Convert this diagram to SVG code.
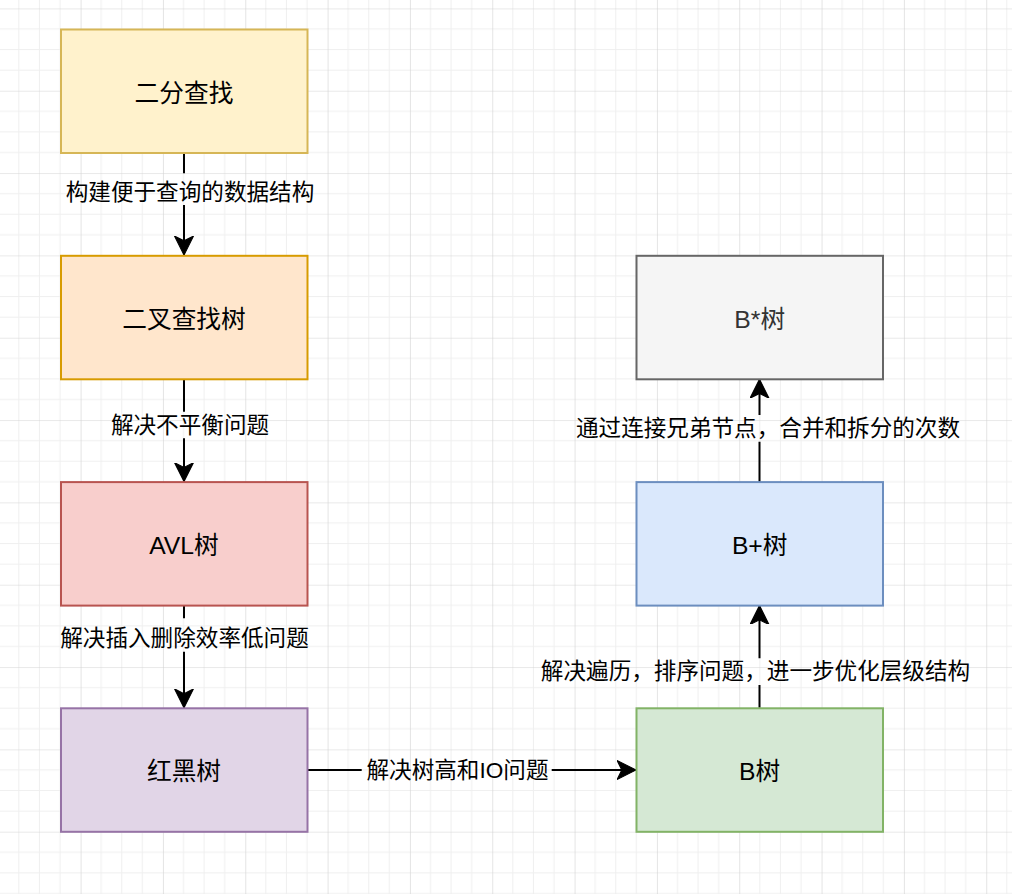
<svg xmlns="http://www.w3.org/2000/svg" width="1012" height="894" viewBox="0 0 1012 894">
  <style>
    .node rect { stroke-width: 2; }
    .nlabel { font-family: "Liberation Sans", "Noto Sans CJK SC", sans-serif; font-size: 24.7px; fill: #000000; text-anchor: middle; }
    .elabel { font-family: "Liberation Sans", "Noto Sans CJK SC", sans-serif; font-size: 22.6px; fill: #000000; text-anchor: middle; }
    .edge { fill: none; stroke: #000000; stroke-width: 2; }
  </style>
  <defs>
    <pattern id="grid" patternUnits="userSpaceOnUse" x="80.6" y="8.4" width="82.33" height="82.33">
      <path d="M20.58 0V82.33M41.17 0V82.33M61.75 0V82.33M0 20.58H82.33M0 41.17H82.33M0 61.75H82.33" stroke="#efefef" stroke-width="1" fill="none"/>
      <path d="M0 0V82.33M0 0H82.33" stroke="#d3d3d3" stroke-width="1.2" fill="none"/>
    </pattern>
    <marker id="arrow" markerUnits="userSpaceOnUse" markerWidth="20" markerHeight="20" viewBox="0 0 18 18" refX="17" refY="9" orient="auto">
      <path d="M17 9 L0 0.5 L4.25 9 L0 17.5 Z" fill="#000000" stroke="#000000" stroke-width="1"/>
    </marker>
  </defs>
  <rect x="0" y="0" width="1012" height="894" fill="#ffffff"/>
  <rect x="0" y="0" width="1012" height="894" fill="url(#grid)"/>

  <g id="connectors">
    <path class="edge" d="M184 153.3V173.3M184 205V255" marker-end="url(#arrow)"/>
    <path class="edge" d="M184 379.3V411.7M184 438.3V481.6" marker-end="url(#arrow)"/>
    <path class="edge" d="M184 605.6V618.3M184 651.7V707.8" marker-end="url(#arrow)"/>
    <path class="edge" d="M307.5 770H361.7M551.7 770H636" marker-end="url(#arrow)"/>
    <path class="edge" d="M759.5 707.8V685M759.5 658.3V605.6" marker-end="url(#arrow)"/>
    <path class="edge" d="M759.5 482.1V441.7M759.5 415V379.3" marker-end="url(#arrow)"/>
    <text class="elabel" x="190" y="199.5">构建便于查询的数据结构</text>
    <text class="elabel" x="190" y="433">解决不平衡问题</text>
    <text class="elabel" x="184.5" y="646">解决插入删除效率低问题</text>
    <text class="elabel" x="457.5" y="778">解决树高和IO问题</text>
    <text class="elabel" x="755.5" y="679">解决遍历，排序问题，进一步优化层级结构</text>
    <text class="elabel" x="768" y="436.3">通过连接兄弟节点，合并和拆分的次数</text>
  </g>

  <g id="node-binary-search" class="node">
    <rect x="61" y="29.5" width="246.5" height="123.5" fill="#fff2cc" stroke="#d6b656"/>
    <text class="nlabel" x="184" y="101.5">二分查找</text>
  </g>
  <g id="node-bst" class="node">
    <rect x="61" y="255.8" width="246.5" height="123.5" fill="#ffe6cc" stroke="#d79b00"/>
    <text class="nlabel" x="184" y="327.8">二叉查找树</text>
  </g>
  <g id="node-avl" class="node">
    <rect x="61" y="482.1" width="246.5" height="123.5" fill="#f8cecc" stroke="#b85450"/>
    <text class="nlabel" x="184" y="554.1">AVL树</text>
  </g>
  <g id="node-rbtree" class="node">
    <rect x="61" y="708.3" width="246.5" height="123.5" fill="#e1d5e7" stroke="#9673a6"/>
    <text class="nlabel" x="184" y="780.3">红黑树</text>
  </g>
  <g id="node-btree" class="node">
    <rect x="636.5" y="708.3" width="246.5" height="123.5" fill="#d5e8d4" stroke="#82b366"/>
    <text class="nlabel" x="759.7" y="780.3">B树</text>
  </g>
  <g id="node-bplus" class="node">
    <rect x="636.5" y="482.1" width="246.5" height="123.5" fill="#dae8fc" stroke="#6c8ebf"/>
    <text class="nlabel" x="759.7" y="554.1">B+树</text>
  </g>
  <g id="node-bstar" class="node">
    <rect x="636.5" y="255.8" width="246.5" height="123.5" fill="#f5f5f5" stroke="#666666"/>
    <text class="nlabel" x="759.7" y="327.8" style="fill:#333333">B*树</text>
  </g>
</svg>
